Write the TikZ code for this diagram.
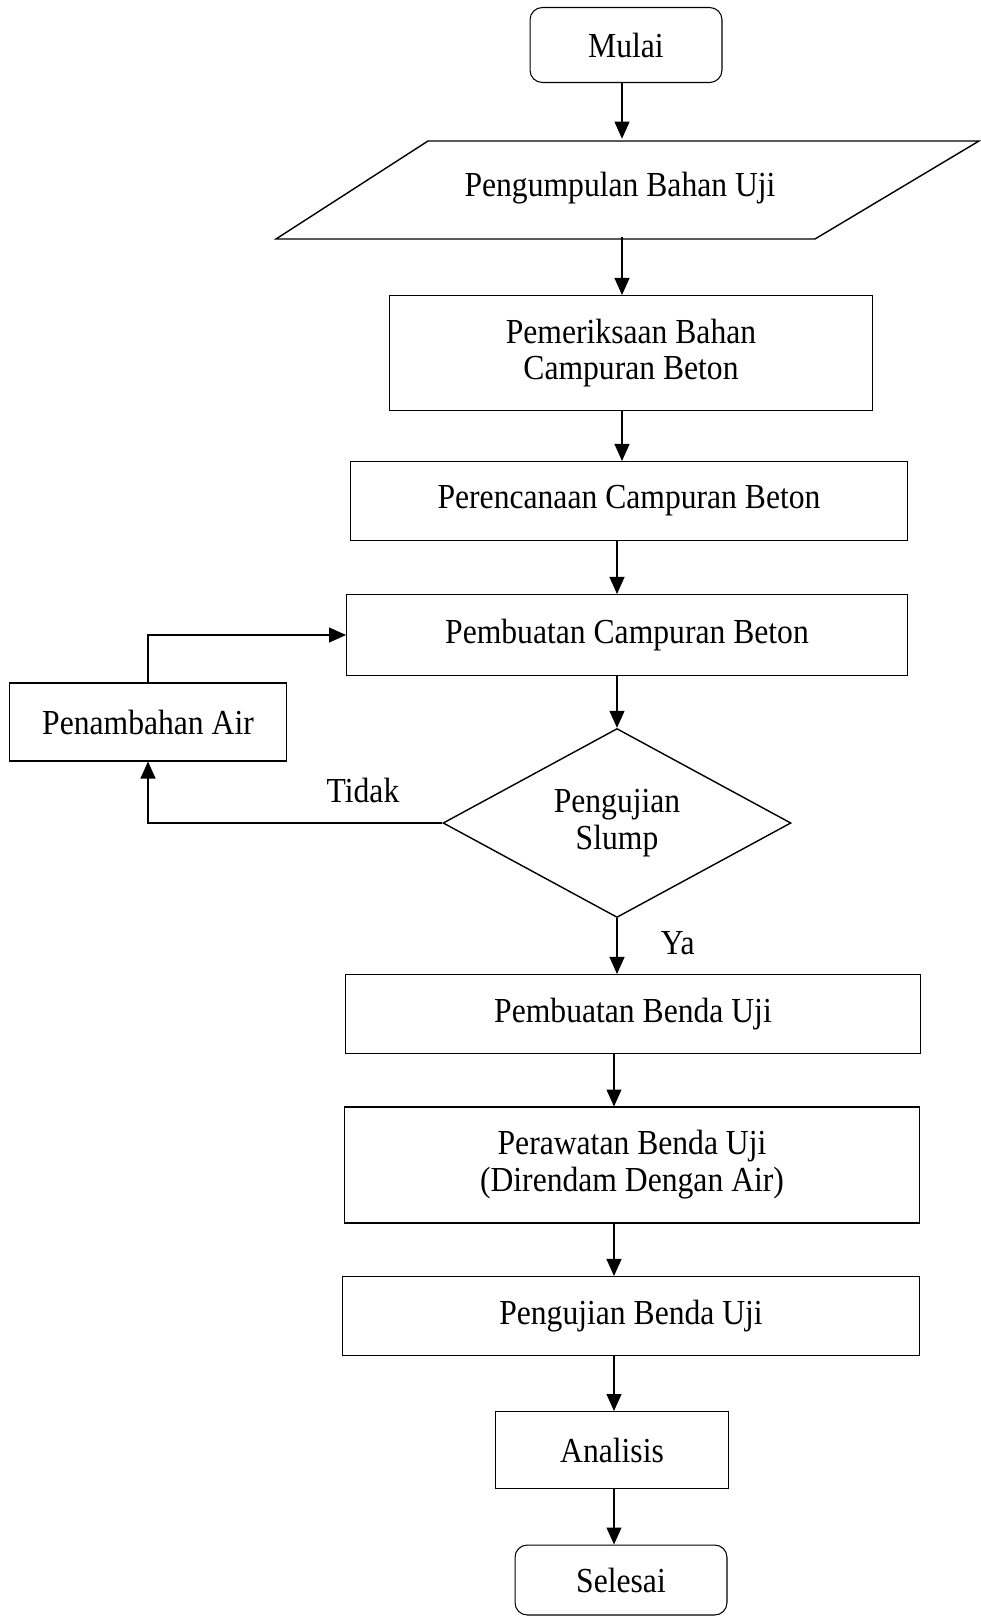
\documentclass[tikz,border=0pt]{standalone}
\usepackage{fontspec}
\setmainfont[FakeStretch=0.9]{Liberation Serif}
\usetikzlibrary{shapes.geometric,arrows.meta,positioning}

\begin{document}
\begin{tikzpicture}[x=0.02cm,y=-0.02cm,
  proc/.style={rectangle,draw,line width=0.6pt,align=center,inner sep=0pt,
               font=\fontsize{20}{21}\selectfont},
  term/.style={proc,rounded corners=7pt},
  dec/.style={diamond,draw,line width=0.8pt,aspect=1.84,align=center,inner sep=0pt,
              font=\fontsize{20}{21}\selectfont},
  arr/.style={-{Triangle[length=0.34cm,width=0.3cm]},line width=0.6pt},
  lbl/.style={font=\fontsize{20}{21}\selectfont}
]
\useasboundingbox (0,0) rectangle (980,1618);

% columns of the arrows
\coordinate (colA) at (622,0);
\coordinate (colB) at (617,0);
\coordinate (colC) at (614,0);

\node[term,minimum width=3.84cm,minimum height=1.5cm] (mulai) at (626,45) {Mulai};
\node[minimum height=1.96cm,inner sep=0pt,font=\fontsize{20}{21}\selectfont] (kumpul) at (620,188) {Pengumpulan Bahan Uji};
\draw[line width=0.8pt] (276,239) -- (428,141) -- (979,141) -- (815,239) -- cycle;
\node[proc,minimum width=9.66cm,minimum height=2.3cm] (periksa) at (631,353) {Pemeriksaan Bahan\\Campuran Beton};
\node[proc,minimum width=11.14cm,minimum height=1.58cm] (rencana) at (629,501) {Perencanaan Campuran Beton};
\node[proc,minimum width=11.22cm,minimum height=1.62cm] (buat) at (627,635) {Pembuatan Campuran Beton};
\node[proc,minimum width=5.54cm,minimum height=1.56cm] (tambah) at (148,722) {Penambahan Air};
\node[dec,minimum width=6.96cm,minimum height=3.78cm] (slump) at (617,823) {Pengujian\\Slump};
\node[proc,minimum width=11.5cm,minimum height=1.58cm] (benda) at (633,1014) {Pembuatan Benda Uji};
\node[proc,minimum width=11.52cm,minimum height=2.32cm] (rawat) at (632,1165) {Perawatan Benda Uji\\(Direndam Dengan Air)};
\node[proc,minimum width=11.56cm,minimum height=1.58cm] (ujibenda) at (631,1316) {Pengujian Benda Uji};
\node[proc,minimum width=4.66cm,minimum height=1.54cm] (analisis) at (612,1450) {Analisis};
\node[term,minimum width=4.24cm,minimum height=1.4cm] (selesai) at (621,1580) {Selesai};

\draw[arr] (mulai.south -| colA) -- (kumpul.north -| colA);
\draw[arr] (kumpul.south -| colA) -- (periksa.north -| colA);
\draw[arr] (periksa.south -| colA) -- (rencana.north -| colA);
\draw[arr] (rencana.south -| colB) -- (buat.north -| colB);
\draw[arr] (buat.south -| colB) -- (slump.north);
\draw[arr] (slump.south) -- node[lbl,right=0.75cm,pos=0.45] (ya) {Ya} (benda.north -| colB);
\draw[arr] (benda.south -| colC) -- (rawat.north -| colC);
\draw[arr] (rawat.south -| colC) -- (ujibenda.north -| colC);
\draw[arr] (ujibenda.south -| colC) -- (analisis.north -| colC);
\draw[arr] (analisis.south -| colC) -- (selesai.north -| colC);

% loop back
\draw[arr] (slump.west) -| (tambah.south);
\draw[arr] (tambah.north) |- (buat.west);
\node[lbl] (tidak) at (363,790) {Tidak};
\end{tikzpicture}
\end{document}
